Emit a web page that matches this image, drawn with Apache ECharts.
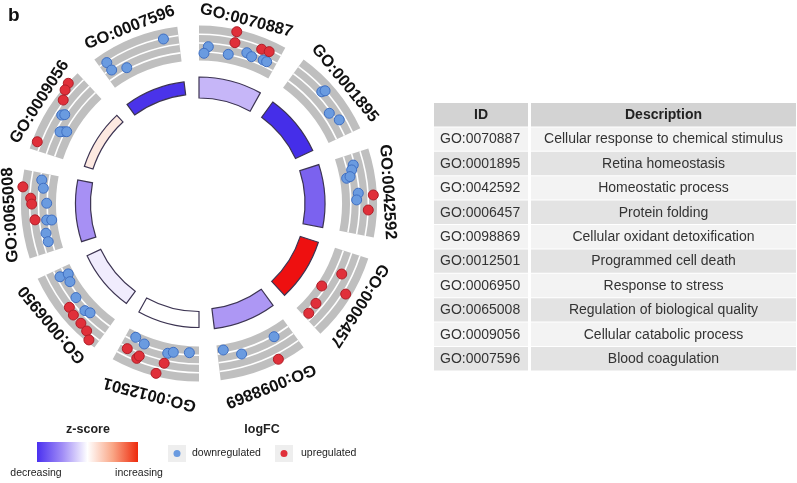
<!DOCTYPE html>
<html><head><meta charset="utf-8">
<script src="https://cdn.jsdelivr.net/npm/echarts@6/dist/echarts.min.js"></script>
<style>html,body{margin:0;padding:0;background:#fff}#c{width:797px;height:483px}</style>
</head><body><div id="c"></div>
<script>
// ---- data ----
const goIds = ['GO:0070887','GO:0001895','GO:0042592','GO:0006457','GO:0098869','GO:0012501','GO:0006950','GO:0065008','GO:0009056','GO:0007596'];
const descriptions = ['Cellular response to chemical stimulus','Retina homeostasis','Homeostatic process','Protein folding','Cellular oxidant detoxification','Programmed cell death','Response to stress','Regulation of biological quality','Cellular catabolic process','Blood coagulation'];
const zScores = [-0.85, -2.83, -1.98, 3.0, -1.22, 0, -0.22, -1.3, 0.38, -2.75];
const significance = [21, 19, 20, 19, 20, 16, 15, 15, 9, 13];
// genes: [angle (deg, clockwise from top), logFC]
const downregulated = [
  [3.4,-0.68],[1.9,-2.04],[11.1,-1.7],[17.6,-0.46],[19.7,-0.9],[24.1,-0.66],[25.5,-0.68],
  [47.7,1.1],[48.2,1.72],[55.3,-0.4],[59.2,0.56],
  [76.0,-0.3],[77.6,-0.84],[80.3,-2.14],[79.9,-1.42],[86.3,-0.18],[88.7,-0.56],
  [170.6,-2.4],[164.2,-0.82],[150.6,-1.52],
  [205.3,-2.5],[201.3,-1.94],[191.8,-1.5],[189.8,-1.9],[183.7,-2.2],
  [242.2,-0.68],[241.7,-2.4],[238.8,-1.92],[232.6,-1.12],[226.8,-0.8],[224.9,-1.24],
  [278.5,-0.3],[275.6,-0.82],[270.1,-1.64],[263.8,-1.46],[263.6,-2.46],[259.0,-0.92],[255.8,-1.0],
  [302.8,0.56],[303.5,0.1],[297.9,-1.4],[297.3,-0.82],[298.5,-2.0],
  [347.8,1.56],[326.8,1.58],[326.8,-0.2],[332.0,-1.34]
];
const upregulated = [
  [12.4,3.08],[12.6,0.86],[22.1,1.2],[24.8,1.36],
  [87.2,2.8],[92.2,1.78],
  [116.3,-0.26],[123.9,-2.52],[121.7,2.38],[130.5,-1.34],[135.0,-1.06],
  [153.0,2.86],
  [206.3,0.28],[201.9,1.28],[201.4,0.66],[192.3,0.6],[194.2,2.94],
  [231.3,1.12],[228.4,1.5],[224.6,1.54],[221.4,1.88],[218.9,2.96],
  [275.4,3.28],[271.8,1.58],[269.8,1.36],[264.3,0.86],
  [312.6,3.42],[310.3,3.02],[307.3,2.04],[290.9,2.52]
];
const gridLines = [-1.75, 0, 1.75];
const tableHeader = ['ID', 'Description'];
const zColors = ['#3a24e8', '#9a7ff2', '#ffffff', '#f8a888', '#ee1010'];

// ---- layout ----
const CX = 199, CY = 203.5;
const SECTOR = 36, SPAN = 29;
const BAR_MID = 20;
const FC_MIN = -3.5, FC_MAX = 3.5;

const barData = goIds.map((id, i) => [BAR_MID - significance[i] / 2, i * SECTOR, BAR_MID + significance[i] / 2, i * SECTOR + SPAN, zScores[i]]);
const bandData = goIds.map((id, i) => [FC_MIN, i * SECTOR, FC_MAX, i * SECTOR + SPAN]);
const labelData = goIds.map((id, i) => [FC_MAX, i * SECTOR + SPAN / 2]);

function sectorShape(params, api, r0v, r1v, a0, a1) {
  const cs = params.coordSys;
  const cx = cs.cx, cy = cs.cy;
  const p0 = api.coord([r0v, a0]);
  const p1 = api.coord([r1v, a1]);
  const rr0 = Math.hypot(p0[0] - cx, p0[1] - cy);
  const rr1 = Math.hypot(p1[0] - cx, p1[1] - cy);
  let sa = Math.atan2(p0[1] - cy, p0[0] - cx);
  let ea = Math.atan2(p1[1] - cy, p1[0] - cx);
  if (ea < sa) ea += Math.PI * 2;
  return { cx, cy, r0: rr0, r: rr1, startAngle: sa, endAngle: ea, clockwise: true };
}

const FONT = '"Liberation Sans", Arial, Helvetica, sans-serif';

// table + legend graphics
const graphics = [];
graphics.push({ type: 'text', x: 8, y: 6, style: { text: 'b', font: 'bold 19px ' + FONT, fill: '#111' } });
const TX = 434, TY = 103, RH = 24.4, C1W = 94, C2X = 531, C2W = 265;
graphics.push({ type: 'rect', shape: { x: TX, y: TY, width: C1W, height: RH - 1 }, style: { fill: '#d3d3d3' } });
graphics.push({ type: 'rect', shape: { x: C2X, y: TY, width: C2W, height: RH - 1 }, style: { fill: '#d3d3d3' } });
graphics.push({ type: 'text', x: TX + C1W / 2, y: TY + RH / 2, style: { text: tableHeader[0], font: 'bold 14px ' + FONT, fill: '#222', align: 'center', verticalAlign: 'middle' } });
graphics.push({ type: 'text', x: C2X + C2W / 2, y: TY + RH / 2, style: { text: tableHeader[1], font: 'bold 14px ' + FONT, fill: '#222', align: 'center', verticalAlign: 'middle' } });
goIds.forEach((id, i) => {
  const y = TY + RH * (i + 1);
  const fill = i % 2 === 0 ? '#f3f3f3' : '#e3e3e3';
  graphics.push({ type: 'rect', shape: { x: TX, y: y, width: C1W, height: RH - 1 }, style: { fill } });
  graphics.push({ type: 'rect', shape: { x: C2X, y: y, width: C2W, height: RH - 1 }, style: { fill } });
  graphics.push({ type: 'text', x: TX + 6, y: y + RH / 2, style: { text: id, font: '14px ' + FONT, fill: '#333', align: 'left', verticalAlign: 'middle' } });
  graphics.push({ type: 'text', x: C2X + C2W / 2, y: y + RH / 2, style: { text: descriptions[i], font: '14px ' + FONT, fill: '#333', align: 'center', verticalAlign: 'middle' } });
});
// legend
const LF = '10.5px ' + FONT;
graphics.push({ type: 'text', x: 88, y: 430, style: { text: 'z-score', font: 'bold 12.5px ' + FONT, fill: '#222', align: 'center', verticalAlign: 'middle' } });
graphics.push({ type: 'rect', shape: { x: 37, y: 442, width: 101, height: 20 }, style: { fill: new echarts.graphic.LinearGradient(0, 0, 1, 0, [{ offset: 0, color: '#4a30f0' }, { offset: 0.25, color: '#a08cf6' }, { offset: 0.5, color: '#ffffff' }, { offset: 0.75, color: '#f9a686' }, { offset: 1, color: '#ee2a0c' }]) } });
graphics.push({ type: 'text', x: 36, y: 473, style: { text: 'decreasing', font: LF, fill: '#222', align: 'center', verticalAlign: 'middle' } });
graphics.push({ type: 'text', x: 139, y: 473, style: { text: 'increasing', font: LF, fill: '#222', align: 'center', verticalAlign: 'middle' } });
graphics.push({ type: 'text', x: 262, y: 430, style: { text: 'logFC', font: 'bold 12.5px ' + FONT, fill: '#222', align: 'center', verticalAlign: 'middle' } });
graphics.push({ type: 'rect', shape: { x: 168, y: 445, width: 18, height: 17 }, style: { fill: '#eeeeee' } });
graphics.push({ type: 'circle', shape: { cx: 177, cy: 453.5, r: 3.5 }, style: { fill: '#6a9be0' } });
graphics.push({ type: 'text', x: 192, y: 453.5, style: { text: 'downregulated', font: LF, fill: '#222', align: 'left', verticalAlign: 'middle' } });
graphics.push({ type: 'rect', shape: { x: 275, y: 445, width: 18, height: 17 }, style: { fill: '#eeeeee' } });
graphics.push({ type: 'circle', shape: { cx: 284, cy: 453.5, r: 3.5 }, style: { fill: '#e0303a' } });
graphics.push({ type: 'text', x: 301, y: 453.5, style: { text: 'upregulated', font: LF, fill: '#222', align: 'left', verticalAlign: 'middle' } });

const chart = echarts.init(document.getElementById('c'));
chart.setOption({
  backgroundColor: '#ffffff',
  animation: false,
  polar: [
    { center: [CX, CY], radius: [96, 136] },
    { center: [CX, CY], radius: [143, 178] }
  ],
  angleAxis: [
    { polarIndex: 0, type: 'value', min: 0, max: 360, startAngle: 90, clockwise: true, show: false },
    { polarIndex: 1, type: 'value', min: 0, max: 360, startAngle: 90, clockwise: true, show: false }
  ],
  radiusAxis: [
    { polarIndex: 0, type: 'value', min: 0, max: 40, show: false },
    { polarIndex: 1, type: 'value', min: FC_MIN, max: FC_MAX, show: false }
  ],
  visualMap: {
    type: 'continuous', show: false, seriesIndex: 0, dimension: 4, min: -3, max: 3,
    inRange: { color: zColors }
  },
  graphic: graphics,
  series: [
    {
      type: 'custom', coordinateSystem: 'polar', polarIndex: 0, z: 2,
      data: barData,
      renderItem(params, api) {
        const s = sectorShape(params, api, api.value(0), api.value(2), api.value(1), api.value(3));
        return { type: 'sector', shape: s, style: { fill: api.visual('color'), stroke: '#3c3452', lineWidth: 1.2 } };
      }
    },
    {
      type: 'custom', coordinateSystem: 'polar', polarIndex: 1, z: 1,
      data: bandData,
      renderItem(params, api) {
        const a0 = api.value(1), a1 = api.value(3);
        const s = sectorShape(params, api, api.value(0), api.value(2), a0, a1);
        const children = [{ type: 'sector', shape: s, style: { fill: '#bfbfbf' } }];
        gridLines.forEach(v => {
          const g = sectorShape(params, api, v, v, a0, a1);
          children.push({ type: 'arc', shape: { cx: g.cx, cy: g.cy, r: g.r, startAngle: g.startAngle, endAngle: g.endAngle, clockwise: true }, style: { stroke: '#ffffff', lineWidth: 1.6, fill: null } });
        });
        return { type: 'group', children };
      }
    },
    {
      type: 'custom', coordinateSystem: 'polar', polarIndex: 1, z: 4,
      data: labelData,
      renderItem(params, api) {
        const cs = params.coordSys;
        const a = api.value(1);
        const p = api.coord([api.value(0), a]);
        const dx = p[0] - cs.cx, dy = p[1] - cs.cy;
        const r = Math.hypot(dx, dy);
        const down = Math.max(0, dy / r);
        const rl = r + 11 + 9 * Math.pow(down, 4);
        return {
          type: 'text', x: cs.cx + dx / r * rl, y: cs.cy + dy / r * rl, rotation: -a * Math.PI / 180,
          style: { text: goIds[params.dataIndex], font: 'bold 16.5px ' + FONT, fill: '#111', align: 'center', verticalAlign: 'middle' }
        };
      }
    },
    {
      name: 'downregulated', type: 'scatter', coordinateSystem: 'polar', polarIndex: 1, z: 3,
      symbolSize: 10, data: downregulated.map(d => [d[1], d[0]]),
      itemStyle: { color: '#6a9be0', borderColor: '#3f6fc2', borderWidth: 1, opacity: 1 }
    },
    {
      name: 'upregulated', type: 'scatter', coordinateSystem: 'polar', polarIndex: 1, z: 3,
      symbolSize: 10, data: upregulated.map(d => [d[1], d[0]]),
      itemStyle: { color: '#e0303a', borderColor: '#b01e28', borderWidth: 1, opacity: 1 }
    }
  ]
});
</script></body></html>
